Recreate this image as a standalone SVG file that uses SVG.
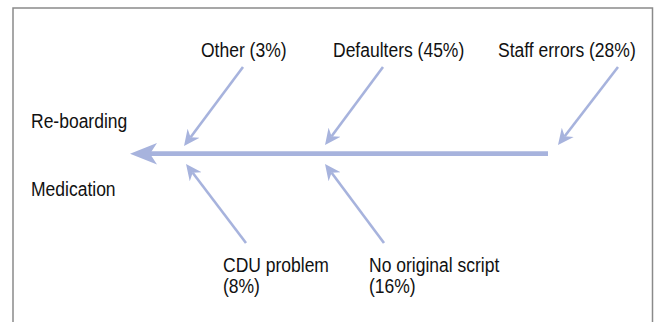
<svg xmlns="http://www.w3.org/2000/svg" width="655" height="322" viewBox="0 0 655 322">
  <defs>
    <style>
      .lbl { font-family: "Liberation Sans", Arial, sans-serif; font-size: 20px; fill: #111; }
      .bone { stroke: #a7b3dd; stroke-width: 2.6; fill: none; }
      .spine { stroke: #a7b3dd; stroke-width: 4.8; fill: none; }
      .frame { stroke: #8a8a8a; stroke-width: 1.5; fill: none; }
    </style>
    <marker id="ah" viewBox="0 -8 17 16" refX="5" refY="0" markerWidth="17" markerHeight="16" markerUnits="userSpaceOnUse" orient="auto">
      <path d="M16,0 L0,-7.5 L5,0 L0,7.5 Z" fill="#a7b3dd"/>
    </marker>
  </defs>
  <rect width="655" height="322" fill="#fff"/>
  <path class="frame" d="M13,322 V8 H652.5 V322"/>

  <g id="connectors">
    <path class="spine" d="M548,153.7 H150"/>
    <path d="M130,153.7 L157,143 L150,153.7 L157,164.5 Z" fill="#a7b3dd"/>
    <line class="bone" x1="243" y1="67" x2="190.6" y2="137.2" marker-end="url(#ah)"/>
    <line class="bone" x1="383" y1="67" x2="331.6" y2="136.2" marker-end="url(#ah)"/>
    <line class="bone" x1="618" y1="67" x2="564.7" y2="136.3" marker-end="url(#ah)"/>
    <line class="bone" x1="246" y1="243" x2="192.7" y2="172.8" marker-end="url(#ah)"/>
    <line class="bone" x1="384" y1="243" x2="331.6" y2="172.8" marker-end="url(#ah)"/>
  </g>

  <g id="node-other"><text class="lbl" transform="translate(201,57) scale(0.875,1)">Other (3%)</text></g>
  <g id="node-defaulters"><text class="lbl" transform="translate(333,57) scale(0.875,1)">Defaulters (45%)</text></g>
  <g id="node-staff"><text class="lbl" transform="translate(498,57) scale(0.875,1)">Staff errors (28%)</text></g>
  <g id="node-reboarding"><text class="lbl" transform="translate(31,128) scale(0.875,1)">Re-boarding</text></g>
  <g id="node-medication"><text class="lbl" transform="translate(31,196) scale(0.875,1)">Medication</text></g>
  <g id="node-cdu"><text class="lbl" transform="translate(223,272) scale(0.875,1)">CDU problem<tspan x="0" y="21">(8%)</tspan></text></g>
  <g id="node-noscript"><text class="lbl" transform="translate(369,272) scale(0.875,1)">No original script<tspan x="0" y="21">(16%)</tspan></text></g>
</svg>
